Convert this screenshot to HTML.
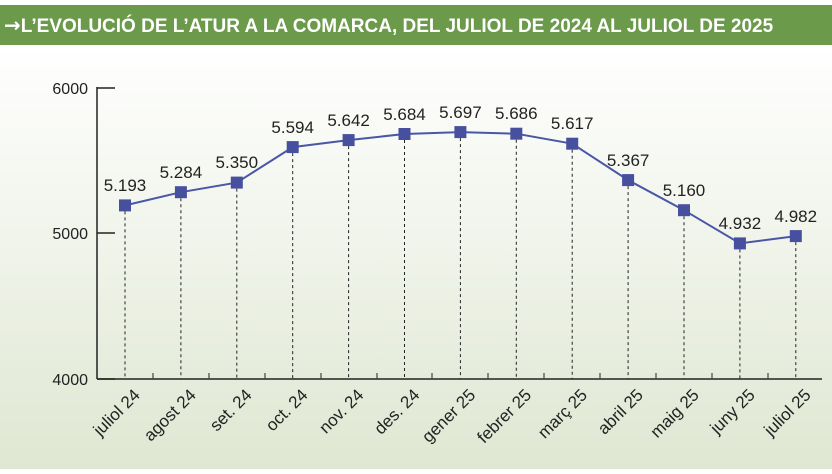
<!DOCTYPE html>
<html><head><meta charset="utf-8"><style>
body{margin:0;width:832px;height:469px;overflow:hidden;font-family:"Liberation Sans",sans-serif;background:#fff}
</style></head><body>
<svg width="832" height="469" xmlns="http://www.w3.org/2000/svg">
<defs><linearGradient id="g" x1="0" y1="0" x2="0" y2="1">
<stop offset="0" stop-color="#ffffff"/><stop offset="1" stop-color="#dfe7d2"/></linearGradient></defs>
<rect x="0" y="45" width="832" height="424" fill="url(#g)"/>
<rect x="0" y="5" width="832" height="40" fill="#6b9a4b"/>
<text x="4" y="32" font-size="19" font-weight="bold" fill="#fff"><tspan font-family="DejaVu Sans" font-size="20">→</tspan>L’EVOLUCIÓ DE L’ATUR A LA COMARCA, DEL JULIOL DE 2024 AL JULIOL DE 2025</text>
<g font-size="16" fill="#222" text-anchor="end">
<text x="88" y="94">6000</text><text x="88" y="239">5000</text><text x="88" y="385">4000</text></g>
<g stroke="#222" stroke-width="1.5" fill="none">
<line x1="97" y1="87" x2="97" y2="379"/><line x1="97" y1="379" x2="822" y2="379"/>
<line x1="97" y1="88" x2="115" y2="88"/><line x1="97" y1="233" x2="115" y2="233"/><line x1="97" y1="379" x2="115" y2="379"/>
</g>
<g stroke="#222" stroke-width="1" stroke-dasharray="3,3">
<line x1="125" y1="205.4" x2="125" y2="379"/>
<line x1="180.9" y1="192.2" x2="180.9" y2="379"/>
<line x1="236.8" y1="182.6" x2="236.8" y2="379"/>
<line x1="292.7" y1="147.1" x2="292.7" y2="379"/>
<line x1="348.6" y1="140.1" x2="348.6" y2="379"/>
<line x1="404.5" y1="134" x2="404.5" y2="379"/>
<line x1="460.4" y1="132.1" x2="460.4" y2="379"/>
<line x1="516.3" y1="133.7" x2="516.3" y2="379"/>
<line x1="572.2" y1="143.7" x2="572.2" y2="379"/>
<line x1="628.1" y1="180.1" x2="628.1" y2="379"/>
<line x1="684" y1="210.2" x2="684" y2="379"/>
<line x1="739.9" y1="243.4" x2="739.9" y2="379"/>
<line x1="795.8" y1="236.1" x2="795.8" y2="379"/>
</g>
<g stroke="#444" stroke-width="1.2">
<line x1="153" y1="373" x2="153" y2="379"/><line x1="209" y1="373" x2="209" y2="379"/><line x1="265" y1="373" x2="265" y2="379"/><line x1="321" y1="373" x2="321" y2="379"/><line x1="377" y1="373" x2="377" y2="379"/><line x1="432" y1="373" x2="432" y2="379"/><line x1="488" y1="373" x2="488" y2="379"/><line x1="544" y1="373" x2="544" y2="379"/><line x1="600" y1="373" x2="600" y2="379"/><line x1="656" y1="373" x2="656" y2="379"/><line x1="712" y1="373" x2="712" y2="379"/><line x1="768" y1="373" x2="768" y2="379"/>
</g>
<polyline points="125,205.4 180.9,192.2 236.8,182.6 292.7,147.1 348.6,140.1 404.5,134 460.4,132.1 516.3,133.7 572.2,143.7 628.1,180.1 684,210.2 739.9,243.4 795.8,236.1" fill="none" stroke="#4a56a6" stroke-width="2"/>
<g fill="#46509e">
<rect x="119" y="199.4" width="12" height="12"/><rect x="174.9" y="186.2" width="12" height="12"/><rect x="230.8" y="176.6" width="12" height="12"/><rect x="286.7" y="141.1" width="12" height="12"/><rect x="342.6" y="134.1" width="12" height="12"/><rect x="398.5" y="128" width="12" height="12"/><rect x="454.4" y="126.1" width="12" height="12"/><rect x="510.3" y="127.7" width="12" height="12"/><rect x="566.2" y="137.7" width="12" height="12"/><rect x="622.1" y="174.1" width="12" height="12"/><rect x="678" y="204.2" width="12" height="12"/><rect x="733.9" y="237.4" width="12" height="12"/><rect x="789.8" y="230.1" width="12" height="12"/>
</g>
<g font-size="17" fill="#222" text-anchor="middle">
<text x="125" y="191">5.193</text><text x="180.9" y="178">5.284</text><text x="236.8" y="168">5.350</text><text x="292.7" y="133">5.594</text><text x="348.6" y="126">5.642</text><text x="404.5" y="120">5.684</text><text x="460.4" y="118">5.697</text><text x="516.3" y="119">5.686</text><text x="572.2" y="129">5.617</text><text x="628.1" y="166">5.367</text><text x="684" y="196">5.160</text><text x="739.9" y="229">4.932</text><text x="795.8" y="222">4.982</text>
</g>
<g font-size="17" fill="#222" text-anchor="end">
<text transform="translate(141,396) rotate(-45)">juliol 24</text>
<text transform="translate(196.9,396) rotate(-45)">agost 24</text>
<text transform="translate(252.8,396) rotate(-45)">set. 24</text>
<text transform="translate(308.7,396) rotate(-45)">oct. 24</text>
<text transform="translate(364.6,396) rotate(-45)">nov. 24</text>
<text transform="translate(420.5,396) rotate(-45)">des. 24</text>
<text transform="translate(476.4,396) rotate(-45)">gener 25</text>
<text transform="translate(532.3,396) rotate(-45)">febrer 25</text>
<text transform="translate(588.2,396) rotate(-45)">març 25</text>
<text transform="translate(644.1,396) rotate(-45)">abril 25</text>
<text transform="translate(700,396) rotate(-45)">maig 25</text>
<text transform="translate(755.9,396) rotate(-45)">juny 25</text>
<text transform="translate(811.8,396) rotate(-45)">juliol 25</text>
</g>
</svg>
</body></html>
